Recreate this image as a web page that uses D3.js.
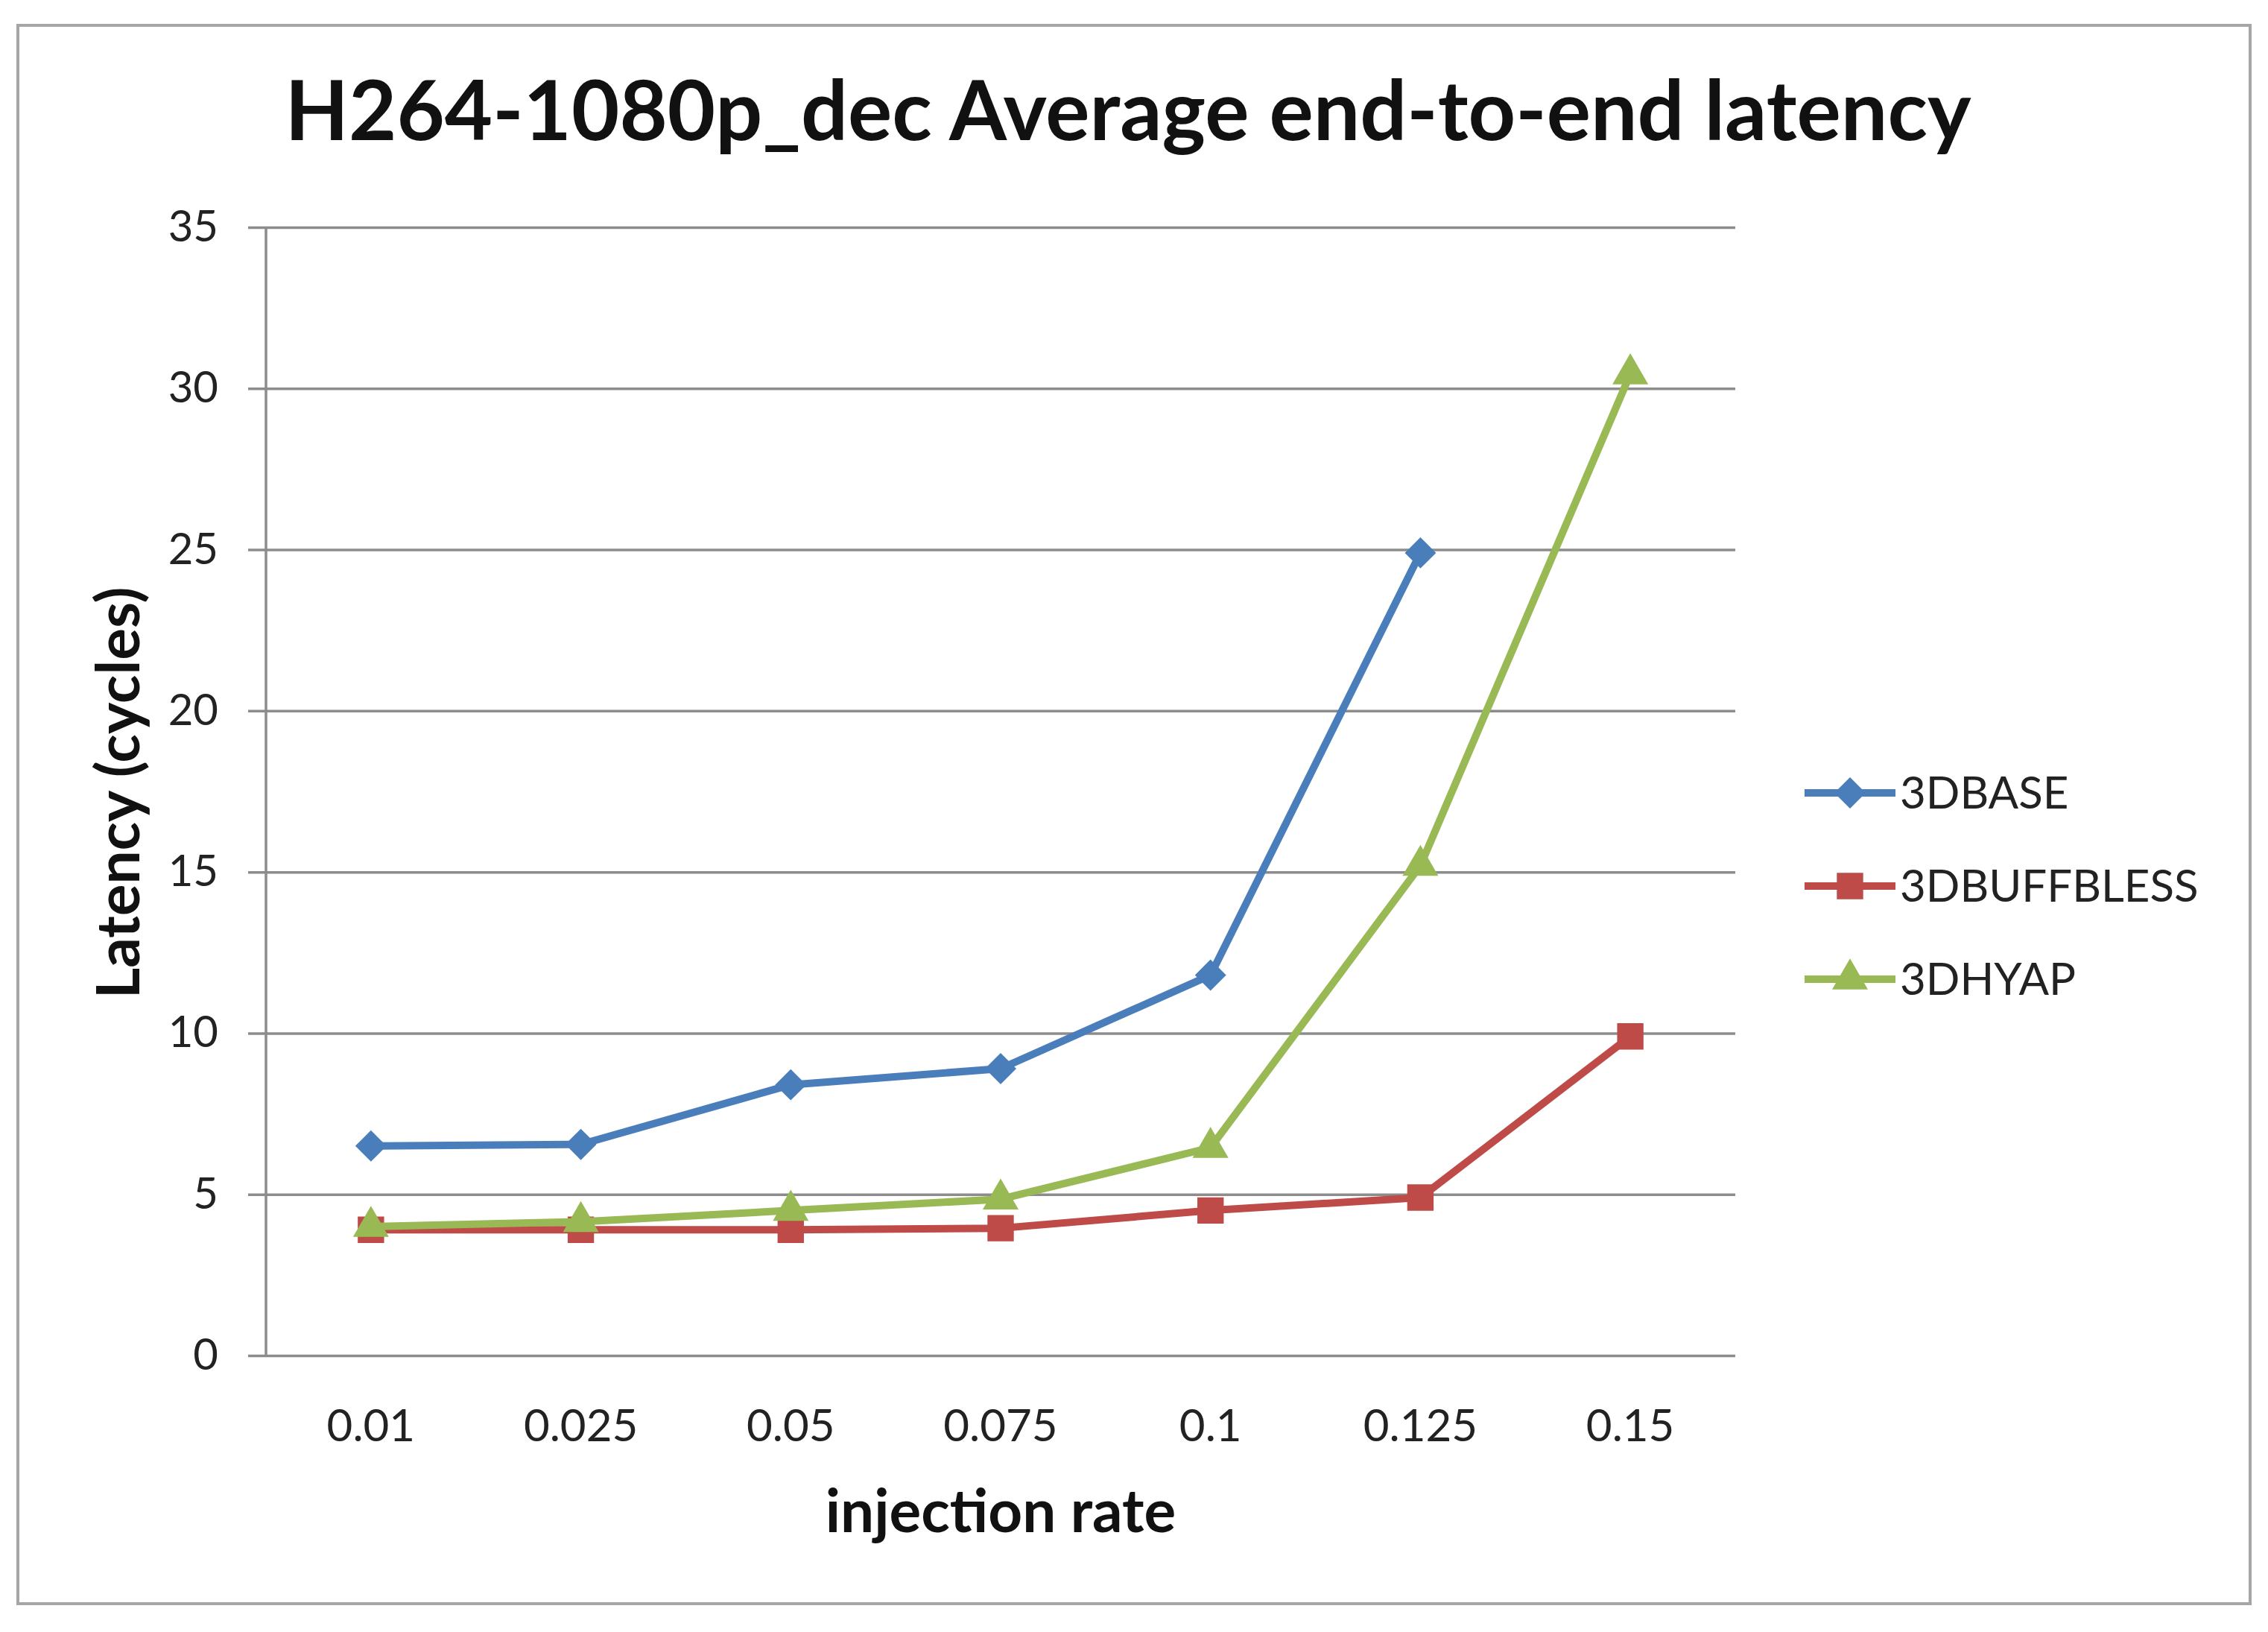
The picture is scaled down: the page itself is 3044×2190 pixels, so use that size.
<!DOCTYPE html>
<html>
<head>
<meta charset="utf-8">
<style>
  body { margin: 0; background: #fff; }
  svg { display: block; font-family: Lato, "Open Sans", sans-serif; }
</style>
</head>
<body>
<svg width="3044" height="2190"></svg>
<script src="https://d3js.org/d3.v7.min.js"></script>
<script>
// injection rates along x
const rates = ["0.01", "0.025", "0.05", "0.075", "0.1", "0.125", "0.15"];
const yTicks = [0, 5, 10, 15, 20, 25, 30, 35];

// latency (null = no point)
const base3d = [6.5, 6.55, 8.4, 8.9, 11.8, 24.9, null];
const buffbless3d = [3.9, 3.9, 3.9, 3.95, 4.5, 4.9, 9.9];
const hyap3d = [4.0, 4.15, 4.5, 4.85, 6.45, 15.2, 30.45];

const seriesNames = ["3DBASE", "3DBUFFBLESS", "3DHYAP"];
const seriesColors = ["#4a7ebb", "#be4b48", "#98b954"];
// diamond = square turned 45deg
const seriesShapes = [d3.symbolSquare, d3.symbolSquare, d3.symbolTriangle];
const symSizes = [880, 1250, 1000];
const symRotate = [45, 0, 0];

const width = 3044, height = 2190;
const margin = { left: 357, right: 715, top: 305, bottom: 371 };
const innerW = width - margin.left - margin.right;
const innerH = height - margin.top - margin.bottom;
const font = "Lato, 'Open Sans', sans-serif";

const svg = d3.select("svg");

svg.append("rect")
  .attr("width", width).attr("height", height)
  .attr("fill", "#fff");

// outer chart frame
svg.append("rect")
  .attr("x", 24).attr("y", 34)
  .attr("width", 2996).attr("height", 2118)
  .attr("fill", "none")
  .attr("stroke", "#a6a6a6")
  .attr("stroke-width", 4);

let x = d3.scaleBand().domain(rates).range([0, innerW]);
let y = d3.scaleLinear().domain([0, 35]).range([innerH, 0]);

let g = svg.append("g")
  .attr("transform", `translate(${margin.left},${margin.top})`);

// gridlines + y labels
let yAxis = d3.axisLeft(y)
  .tickValues(yTicks)
  .tickSize(-innerW)
  .tickPadding(40);

let ya = g.append("g").call(yAxis).attr("font-family", font);
ya.select(".domain").remove();
ya.selectAll(".tick line")
  .attr("x1", -24)
  .attr("stroke", "#8c8c8c")
  .attr("stroke-width", 3.5);
ya.selectAll(".tick text")
  .attr("font-size", 58)
  .attr("fill", "#222")
  .attr("x", -64);

// left axis line
g.append("line")
  .attr("x1", 0).attr("x2", 0)
  .attr("y1", 0).attr("y2", innerH)
  .attr("stroke", "#8c8c8c")
  .attr("stroke-width", 3.5);

// x labels
let xa = g.append("g")
  .attr("transform", `translate(0,${innerH})`)
  .call(d3.axisBottom(x).tickSize(0).tickPadding(72))
  .attr("font-family", font);
xa.select(".domain").remove();
xa.selectAll(".tick text")
  .attr("font-size", 60)
  .attr("fill", "#222");

// lines + markers
let allSeries = [base3d, buffbless3d, hyap3d];

let line = d3.line()
  .defined(d => d != null)
  .x((d, i) => x(rates[i]) + x.bandwidth() / 2)
  .y(d => y(d));

allSeries.forEach((vals, s) => {
  g.append("path")
    .datum(vals)
    .attr("d", line)
    .attr("fill", "none")
    .attr("stroke", seriesColors[s])
    .attr("stroke-width", 10)
    .attr("stroke-linejoin", "round");

  let sym = d3.symbol().type(seriesShapes[s]).size(symSizes[s]);
  g.selectAll(".m" + s)
    .data(vals.map((v, i) => ({ v, i })).filter(d => d.v != null))
    .join("path")
    .attr("class", "m" + s)
    .attr("d", sym)
    .attr("transform", d => `translate(${x(rates[d.i]) + x.bandwidth() / 2},${y(d.v)}) rotate(${symRotate[s]})`)
    .attr("fill", seriesColors[s]);
});

// title
svg.append("text")
  .attr("x", 1514).attr("y", 188)
  .attr("text-anchor", "middle")
  .attr("font-size", 111)
  .attr("font-weight", "bold")
  .attr("fill", "#111")
  .text("H264-1080p_dec Average end-to-end latency");

// axis titles
svg.append("text")
  .attr("x", 1343).attr("y", 2056)
  .attr("text-anchor", "middle")
  .attr("font-size", 80)
  .attr("font-weight", "bold")
  .attr("fill", "#111")
  .text("injection rate");

svg.append("text")
  .attr("transform", "translate(187,1064) rotate(-90)")
  .attr("text-anchor", "middle")
  .attr("font-size", 80)
  .attr("font-weight", "bold")
  .attr("fill", "#111")
  .text("Latency (cycles)");

// legend
let legend = svg.append("g").attr("transform", "translate(2422,1064)");
seriesNames.forEach((name, s) => {
  let row = legend.append("g").attr("transform", `translate(0,${s * 125})`);
  row.append("line")
    .attr("x1", 0).attr("x2", 122)
    .attr("stroke", seriesColors[s])
    .attr("stroke-width", 10);
  row.append("path")
    .attr("d", d3.symbol().type(seriesShapes[s]).size(symSizes[s]))
    .attr("transform", `translate(61,0) rotate(${symRotate[s]})`)
    .attr("fill", seriesColors[s]);
  row.append("text")
    .attr("x", 128).attr("y", 21)
    .attr("font-size", 60)
    .attr("fill", "#222")
    .text(name);
});
</script>
</body>
</html>
